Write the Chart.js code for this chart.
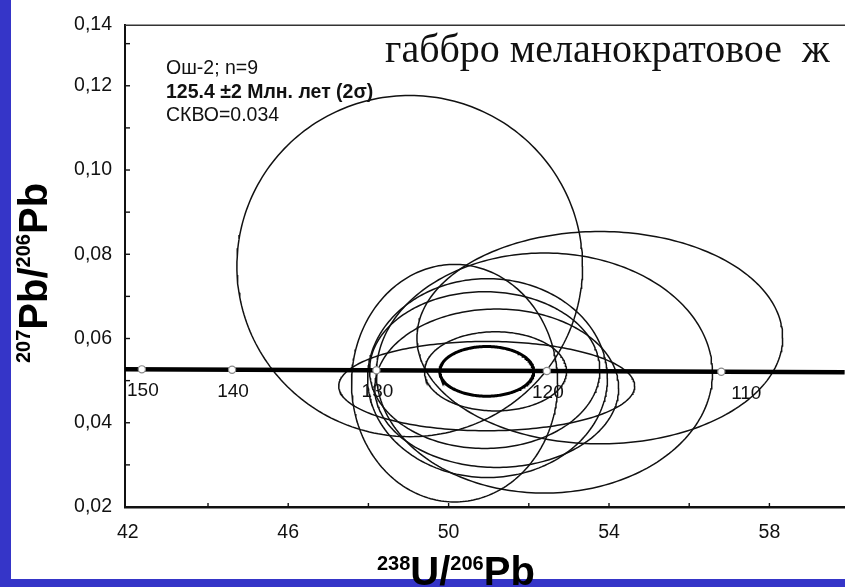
<!DOCTYPE html>
<html>
<head>
<meta charset="utf-8">
<script src="https://cdn.jsdelivr.net/npm/chart.js@4.4.1/dist/chart.umd.min.js"></script>
<style>
  html, body { margin: 0; padding: 0; background: #ffffff; }
  #wrap { width: 845px; height: 587px; position: relative; overflow: hidden; }
  canvas { display: block; }
</style>
</head>
<body>
<div id="wrap"><canvas id="c" width="850" height="587"></canvas></div>
<script>
// Tera-Wasserburg diagram for sample Ош-2 (gabbro)
const X_MIN = 41.93, X_MAX = 59.88;
const Y_MIN = 0.02, Y_MAX = 0.1345;

const xTickValues = [42, 44, 46, 48, 50, 52, 54, 56, 58];
const xTickLabels = ['42', '', '46', '', '50', '', '54', '', '58'];
const yTickValues = [0.02, 0.03, 0.04, 0.05, 0.06, 0.07, 0.08, 0.09, 0.10, 0.11, 0.12, 0.13, Y_MAX];
const yTickLabels = ['0,02', '', '0,04', '', '0,06', '', '0,08', '', '0,10', '', '0,12', '', '0,14'];

// individual analyses: 2σ error ellipses (centre, half-widths)
const ellCx = [49.03, 53.77, 52.39, 50.15, 50.97, 51.20, 50.95, 50.90, 51.17];
const ellCy = [0.0772, 0.0602, 0.0518, 0.0494, 0.0506, 0.0482, 0.0487, 0.0525, 0.0522];
const ellRx = [4.31, 4.56, 4.19, 2.57, 2.99, 3.04, 3.69, 2.87, 1.77];
const ellRy = [0.0405, 0.0252, 0.0285, 0.0282, 0.0236, 0.0188, 0.0106, 0.0186, 0.0094];

// concordia age ellipse
const meanCx = [50.95];
const meanCy = [0.0522];
const meanRx = [1.17];
const meanRy = [0.0059];

// concordia curve
const concX = [X_MIN, X_MAX];
const concY = [0.0527, 0.0520];

// age marks on the concordia, Ma
const ageLabels = ['150', '140', '130', '120', '110'];
const ageX = [42.35, 44.60, 48.20, 52.45, 56.80];
const ageY = [0.05268, 0.05260, 0.05246, 0.05230, 0.05210];

function outline(cx, cy, rx, ry) {
  const pts = [];
  const n = 240;
  for (let i = 0; i <= n; i++) {
    const t = 2 * Math.PI * i / n;
    pts.push({ x: cx + rx * Math.cos(t), y: cy + ry * Math.sin(t) });
  }
  return pts;
}

const SANS = '"Liberation Sans", Arial, Helvetica, sans-serif';
const SERIF = '"Liberation Serif", "Times New Roman", serif';
const INK = '#111111';
const BLUE = '#3535c8';

const datasets = [];
// age marks on top
datasets.push({
  label: 'age marks',
  data: ageX.map((x, i) => ({ x, y: ageY[i] })),
  showLine: false,
  pointRadius: 3.6,
  pointBackgroundColor: '#ffffff',
  pointBorderColor: '#8a8a8a',
  pointBorderWidth: 1.2,
  order: 0
});
datasets.push({
  label: 'concordia',
  data: concX.map((x, i) => ({ x, y: concY[i] })),
  showLine: true,
  borderColor: '#000000',
  borderWidth: 4.5,
  pointRadius: 0,
  order: 1
});
meanCx.forEach((cx, i) => {
  datasets.push({
    label: 'concordia age',
    data: outline(cx, meanCy[i], meanRx[i], meanRy[i]),
    showLine: true,
    borderColor: '#000000',
    borderWidth: 3,
    pointRadius: 0,
    order: 2
  });
});
ellCx.forEach((cx, i) => {
  datasets.push({
    label: 'spot ' + (i + 1),
    data: outline(cx, ellCy[i], ellRx[i], ellRy[i]),
    showLine: true,
    borderColor: INK,
    borderWidth: 1.5,
    pointRadius: 0,
    order: 3
  });
});

function drawSupText(ctx, parts, x, y, bigFont, smallFont, rise) {
  let cx = x;
  parts.forEach(p => {
    ctx.font = p.sup ? smallFont : bigFont;
    ctx.fillText(p.t, cx, p.sup ? y - rise : y);
    cx += ctx.measureText(p.t).width;
  });
}

const decor = {
  id: 'decor',
  beforeDraw(chart) {
    const ctx = chart.ctx;
    ctx.save();
    ctx.fillStyle = '#ffffff';
    ctx.fillRect(0, 0, chart.width, chart.height);
    ctx.fillStyle = BLUE;
    ctx.fillRect(0, 0, 11, chart.height);
    ctx.fillRect(0, 579, chart.width, chart.height - 579);
    ctx.restore();
  },
  afterDatasetsDraw(chart) {
    const ctx = chart.ctx;
    const xs = chart.scales.x, ys = chart.scales.y;
    const ca = chart.chartArea;
    ctx.save();
    // top frame line
    ctx.strokeStyle = '#333333';
    ctx.lineWidth = 1.6;
    ctx.beginPath();
    ctx.moveTo(ca.left, ca.top + 0.5);
    ctx.lineTo(chart.width, ca.top + 0.5);
    ctx.stroke();
    // inward tick marks
    ctx.strokeStyle = INK;
    ctx.lineWidth = 1.4;
    ys.ticks.forEach(t => {
      const py = ys.getPixelForValue(t.value);
      if (py > ca.bottom - 3 || py < ca.top + 3) return;
      ctx.beginPath();
      ctx.moveTo(ca.left, py);
      ctx.lineTo(ca.left + 5, py);
      ctx.stroke();
    });
    xs.ticks.forEach(t => {
      const px = xs.getPixelForValue(t.value);
      if (px < ca.left + 3) return;
      ctx.beginPath();
      ctx.moveTo(px, ca.bottom);
      ctx.lineTo(px, ca.bottom - 4);
      ctx.stroke();
    });
    // age labels under the marks
    ctx.fillStyle = INK;
    ctx.font = '19px ' + SANS;
    ctx.textAlign = 'center';
    ctx.textBaseline = 'alphabetic';
    const nudge = { '110': 24 };
    ageLabels.forEach((lab, i) => {
      const px = xs.getPixelForValue(ageX[i]) + (nudge[lab] || 0);
      const py = ys.getPixelForValue(ageY[i]);
      ctx.fillText(lab, px + 1, py + 27);
    });
    ctx.restore();
  },
  afterDraw(chart) {
    const ctx = chart.ctx;
    const ca = chart.chartArea;
    ctx.save();
    ctx.fillStyle = INK;
    ctx.textAlign = 'left';
    ctx.textBaseline = 'alphabetic';
    // sample note
    ctx.font = '19.5px ' + SANS;
    ctx.fillText('Ош-2; n=9', ca.left + 41, 74);
    ctx.font = 'bold 19.5px ' + SANS;
    ctx.fillText('125.4 \u00b12 Млн. лет (2\u03c3)', ca.left + 41, 98);
    ctx.font = '19.5px ' + SANS;
    ctx.fillText('СКВО=0.034', ca.left + 41, 121);
    // rock name
    ctx.font = '40px ' + SERIF;
    ctx.fillStyle = '#111111';
    ctx.fillText('габбро меланократовое  ж', 385, 62);
    // axis titles
    ctx.fillStyle = '#000000';
    const big = 'bold 40px ' + SANS, small = 'bold 20px ' + SANS;
    drawSupText(ctx, [
      { t: '238', sup: true }, { t: 'U/' }, { t: '206', sup: true }, { t: 'Pb' }
    ], 377, 585, big, small, 15);
    ctx.translate(47, 363);
    ctx.rotate(-Math.PI / 2);
    drawSupText(ctx, [
      { t: '207', sup: true }, { t: 'Pb/' }, { t: '206', sup: true }, { t: 'Pb' }
    ], 0, 0, big, small, 17);
    ctx.restore();
  }
};

new Chart(document.getElementById('c'), {
  type: 'scatter',
  data: { datasets },
  options: {
    responsive: false,
    animation: false,
    devicePixelRatio: 1,
    layout: { padding: { top: 21, right: 0, bottom: 0, left: 0 } },
    plugins: { legend: { display: false }, tooltip: { enabled: false } },
    scales: {
      x: {
        type: 'linear',
        min: X_MIN,
        max: X_MAX,
        grid: { display: false, drawTicks: false },
        border: { display: true, color: '#111111', width: 2.5 },
        ticks: {
          autoSkip: false,
          maxRotation: 0,
          padding: 14,
          color: INK,
          font: { family: SANS, size: 19.5 },
          callback: (v, i) => xTickLabels[i]
        },
        afterBuildTicks: s => { s.ticks = xTickValues.map(v => ({ value: v })); },
        afterFit: s => { s.height = 80; }
      },
      y: {
        type: 'linear',
        min: Y_MIN,
        max: Y_MAX,
        grid: { display: false, drawTicks: false },
        border: { display: true, color: '#111111', width: 2 },
        ticks: {
          autoSkip: false,
          padding: 13,
          color: INK,
          font: { family: SANS, size: 19.5 },
          callback: (v, i) => yTickLabels[i]
        },
        afterBuildTicks: s => { s.ticks = yTickValues.map(v => ({ value: v })); },
        afterFit: s => { s.width = 125; }
      }
    }
  },
  plugins: [decor]
});
</script>
</body>
</html>
